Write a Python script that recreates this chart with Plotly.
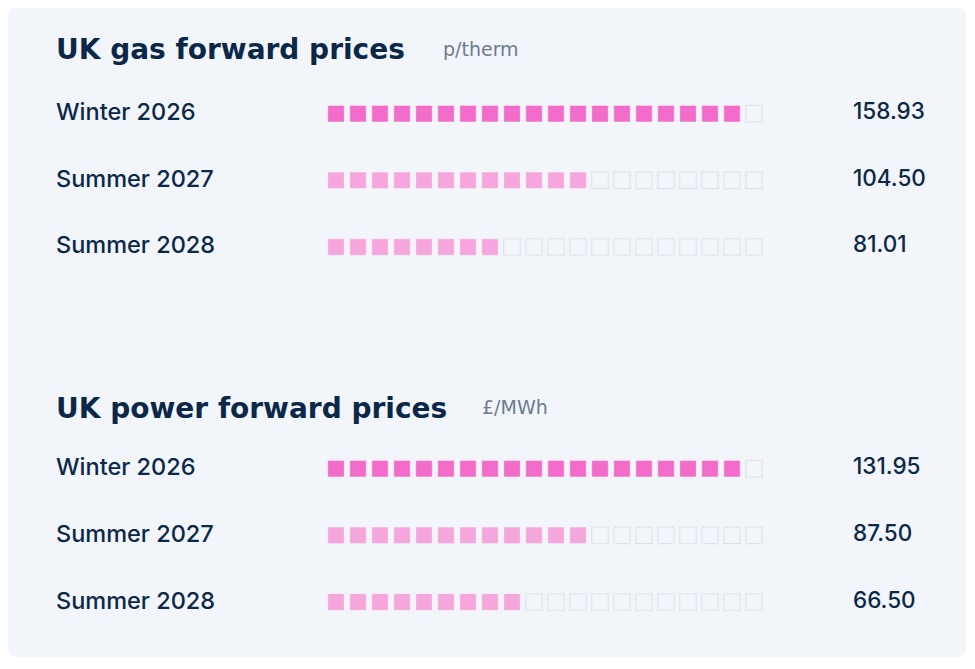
import plotly.graph_objects as go

# datos
periodos = ["Winter 2026", "Summer 2027", "Summer 2028"]
gas_valores = [158.93, 104.50, 81.01]
power_valores = [131.95, 87.50, 66.50]
gas_llenos = [19, 12, 8]
power_llenos = [19, 12, 9]
N_CUADROS = 20

secciones = [
    ("UK gas forward prices", "p/therm", gas_valores, gas_llenos),
    ("UK power forward prices", "£/MWh", power_valores, power_llenos),
]

# estilos
W, H = 975, 669
DX, DY = 8, 8        # margen del body de la pagina
FONDO_TARJETA = "#f2f5fa"
AZUL = "#0b2849"
GRIS = "#6c7b90"
ROSA_FUERTE = "#f26cca"
ROSA_SUAVE = "#f5a6dc"
VACIO_BORDE = "#dfe4eb"
FUENTE = "Inter"
FUENTE_TITULO = "DejaVu Sans"

PASO = 22.0          # px entre cuadros
X0_CUADRO = 336.0    # centro del primer cuadro
FILA_ALTO = 66.65
fila0_px = [113.7, 468.7]
titulo_px = [50, 408]
unidad_x = [441, 480]


def px(x):
    return (x - DX) / W


def py(y):
    return 1 - (y - DY) / H


fig = go.Figure()

for s, (titulo, unidad, valores, llenos) in enumerate(secciones):
    yref = "y" if s == 0 else "y2"
    for r, periodo in enumerate(periodos):
        color_lleno = ROSA_FUERTE if periodo.startswith("Winter") else ROSA_SUAVE
        xs = list(range(N_CUADROS))
        colores = [color_lleno if i < llenos[r] else FONDO_TARJETA for i in xs]
        bordes = ["rgba(255,255,255,0.35)" if i < llenos[r] else VACIO_BORDE for i in xs]
        fig.add_trace(go.Scatter(
            x=xs, y=[r] * N_CUADROS,
            mode="markers",
            marker=dict(symbol="square", size=16.5, color=colores,
                        line=dict(color=bordes, width=1.2)),
            yaxis=yref, showlegend=False, hoverinfo="skip",
        ))
        fig.add_annotation(x=px(54), xref="paper", y=r, yref=yref,
                           text=periodo, showarrow=False, xanchor="left",
                           yanchor="middle", yshift=2,
                           font=dict(family=FUENTE, size=23.5, weight=500, color=AZUL))
        fig.add_annotation(x=px(851), xref="paper", y=r, yref=yref,
                           text=f"{valores[r]:.2f}", showarrow=False, xanchor="left",
                           yanchor="middle", yshift=3,
                           font=dict(family=FUENTE, size=22.5, weight=500, color=AZUL))

    fig.add_annotation(x=px(54), xref="paper", y=py(titulo_px[s]), yref="paper",
                       text=f"<b>{titulo}</b>", showarrow=False, xanchor="left",
                       yanchor="middle",
                       font=dict(family=FUENTE_TITULO, size=28, color=AZUL))
    fig.add_annotation(x=px(unidad_x[s]), xref="paper", y=py(titulo_px[s] - 1), yref="paper",
                       text=unidad, showarrow=False, xanchor="left", yanchor="middle",
                       font=dict(family=FUENTE_TITULO, size=19, color=GRIS))

# tarjeta con esquinas redondeadas
x0, x1, y0, y1, rad = 8, 966, 7, 657, 9
ruta = (f"M {px(x0+rad)},{py(y0)} L {px(x1-rad)},{py(y0)} Q {px(x1)},{py(y0)} {px(x1)},{py(y0+rad)} "
        f"L {px(x1)},{py(y1-rad)} Q {px(x1)},{py(y1)} {px(x1-rad)},{py(y1)} "
        f"L {px(x0+rad)},{py(y1)} Q {px(x0)},{py(y1)} {px(x0)},{py(y1-rad)} "
        f"L {px(x0)},{py(y0+rad)} Q {px(x0)},{py(y0)} {px(x0+rad)},{py(y0)} Z")
fig.add_shape(type="path", path=ruta, xref="paper", yref="paper",
              fillcolor=FONDO_TARJETA, line=dict(width=0), layer="below")


def dominio(f0):
    top = f0 - FILA_ALTO / 2
    bot = f0 + 2 * FILA_ALTO + FILA_ALTO / 2
    return [py(bot), py(top)]


eje_oculto = dict(visible=False, showgrid=False, zeroline=False, fixedrange=True)
fig.update_layout(
    width=W, height=H,
    margin=dict(l=0, r=0, t=0, b=0),
    paper_bgcolor="white", plot_bgcolor="rgba(0,0,0,0)",
    xaxis=dict(range=[(DX - X0_CUADRO) / PASO, (W + DX - X0_CUADRO) / PASO], domain=[0, 1], **eje_oculto),
    yaxis=dict(range=[2.5, -0.5], domain=dominio(fila0_px[0]), **eje_oculto),
    yaxis2=dict(range=[2.5, -0.5], domain=dominio(fila0_px[1]), anchor="x", **eje_oculto),
    hovermode=False,
)

fig.write_html("out.html")
